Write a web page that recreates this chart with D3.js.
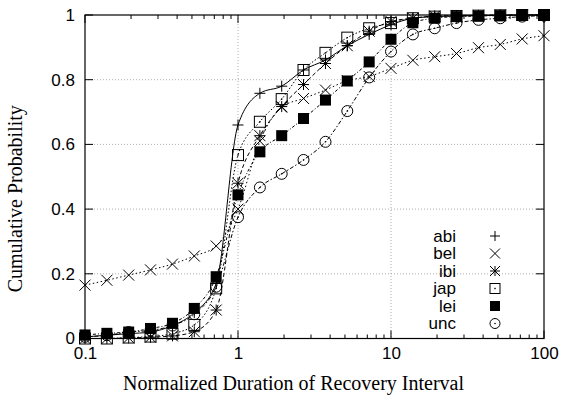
<!DOCTYPE html>
<html><head><meta charset="utf-8">
<script src="https://cdn.jsdelivr.net/npm/d3@7"></script>
<style>body{margin:0;background:#fff}svg{display:block}</style>
</head><body><svg id="c" width="561" height="400"></svg>
<script>
const xValues = [0.1,0.139,0.193,0.268,0.373,0.518,0.72,1,1.39,1.93,2.68,3.73,5.18,7.2,10,13.9,19.3,26.8,37.3,51.8,72,100];
const seriesNames = ["abi","bel","ibi","jap","lei","unc"];
const abi = [0.005,0.01,0.015,0.02,0.04,0.08,0.17,0.66,0.758,0.78,0.83,0.861,0.905,0.94,0.97,0.99,0.995,0.997,0.998,0.999,1,1];
const bel = [0.165,0.18,0.196,0.212,0.23,0.255,0.286,0.40,0.61,0.715,0.742,0.768,0.797,0.81,0.835,0.86,0.871,0.881,0.899,0.909,0.926,0.936];
const ibi = [0,0,0.002,0.004,0.008,0.021,0.088,0.48,0.627,0.717,0.785,0.85,0.905,0.95,0.98,0.99,0.997,0.998,0.999,1,1,1];
const jap = [0,0,0.003,0.006,0.015,0.042,0.155,0.567,0.67,0.74,0.83,0.883,0.93,0.959,0.975,0.99,0.995,0.997,0.998,0.999,1,1];
const lei = [0.011,0.016,0.02,0.031,0.047,0.093,0.191,0.444,0.577,0.627,0.68,0.737,0.796,0.855,0.925,0.976,0.99,0.995,0.997,0.998,0.999,1];
const unc = [0.005,0.01,0.02,0.025,0.04,0.075,0.16,0.375,0.467,0.509,0.552,0.608,0.703,0.807,0.887,0.94,0.959,0.975,0.985,0.99,0.995,0.998];
const xTickValues = [0.1,1,10,100];
const xTickLabels = ["0.1","1","10","100"];
const yTickValues = [0,0.2,0.4,0.6,0.8,1];
const yTickLabels = ["0","0.2","0.4","0.6","0.8","1"];
const xTitle = "Normalized Duration of Recovery Interval";
const yTitle = "Cumulative Probability";

const allSeries = [abi,bel,ibi,jap,lei,unc];
const dashes = [null,"1.5,2.5","4,2.5","1.5,2","3,2,1,2","4,2,1.5,2"];
const shapes = ["plus","cross","star","box","fbox","circle"];

const svg = d3.select("#c");
const L=85,R=544,T=15,B=338.5;
const x = d3.scaleLog().domain([0.1,100]).range([L,R]);
const y = d3.scaleLinear().domain([0,1]).range([B,T]);

// grid
const g = svg.append("g");
[1,10].forEach(v=>g.append("line").attr("x1",x(v)).attr("x2",x(v)).attr("y1",T).attr("y2",B)
  .attr("stroke","#999").attr("stroke-width",0.8).attr("stroke-dasharray","1,2"));
[0.2,0.4,0.6,0.8].forEach(v=>g.append("line").attr("x1",L).attr("x2",R).attr("y1",y(v)).attr("y2",y(v))
  .attr("stroke","#999").attr("stroke-width",0.8).attr("stroke-dasharray","1,2"));

// axes ticks (inside, mirrored)
const xb = d3.axisBottom(x).tickValues(xTickValues).tickFormat((d,i)=>xTickLabels[i]).tickSize(0).tickPadding(8);
const ax = svg.append("g").attr("transform",`translate(0,${B})`).call(xb);
ax.select(".domain").remove();
ax.selectAll("text").attr("font-family","Liberation Sans, Arial, sans-serif").attr("font-size",17).attr("fill","#000");
const yl = d3.axisLeft(y).tickValues(yTickValues).tickFormat((d,i)=>yTickLabels[i]).tickSize(0).tickPadding(10);
const ay = svg.append("g").attr("transform",`translate(${L},0)`).call(yl);
ay.select(".domain").remove();
ay.selectAll("text").attr("font-family","Liberation Sans, Arial, sans-serif").attr("font-size",17).attr("fill","#000");

const tk = svg.append("g").attr("stroke","#000").attr("stroke-width",1);
const minor=[];
[0.1,1,10].forEach(d=>{for(let k=2;k<=9;k++)minor.push(d*k);});
minor.forEach(v=>{
  tk.append("line").attr("x1",x(v)).attr("x2",x(v)).attr("y1",B).attr("y2",B-4);
  tk.append("line").attr("x1",x(v)).attr("x2",x(v)).attr("y1",T).attr("y2",T+4);
});
xTickValues.forEach(v=>{
  tk.append("line").attr("x1",x(v)).attr("x2",x(v)).attr("y1",B).attr("y2",B-8);
  tk.append("line").attr("x1",x(v)).attr("x2",x(v)).attr("y1",T).attr("y2",T+8);
});
yTickValues.forEach(v=>{
  tk.append("line").attr("x1",L).attr("x2",L+8).attr("y1",y(v)).attr("y2",y(v));
  tk.append("line").attr("x1",R).attr("x2",R-8).attr("y1",y(v)).attr("y2",y(v));
});

// series lines
const line = d3.line().x((d,i)=>x(xValues[i])).y(d=>y(d)).curve(d3.curveMonotoneX);
const pg = svg.append("g");
allSeries.forEach((s,k)=>{
  pg.append("path").attr("d",line(s)).attr("fill","none").attr("stroke","#000").attr("stroke-width",1)
    .attr("stroke-dasharray",dashes[k]);
});

function marker(sel,shape,cx,cy,s){
  const p=sel.append("g").attr("transform",`translate(${cx},${cy})`);
  if(shape==="plus"){p.append("path").attr("d",`M${-s},0H${s}M0,${-s}V${s}`).attr("stroke","#000").attr("fill","none");}
  else if(shape==="cross"){p.append("path").attr("d",`M${-s},${-s}L${s},${s}M${-s},${s}L${s},${-s}`).attr("stroke","#000").attr("fill","none");}
  else if(shape==="star"){p.append("path").attr("d",`M${-s},0H${s}M0,${-s}V${s}M${-s},${-s}L${s},${s}M${-s},${s}L${s},${-s}`).attr("stroke","#000").attr("fill","none");}
  else if(shape==="box"){p.append("rect").attr("x",-s).attr("y",-s).attr("width",2*s).attr("height",2*s).attr("fill","none").attr("stroke","#000");
    p.append("rect").attr("x",-0.7).attr("y",-0.7).attr("width",1.4).attr("height",1.4).attr("fill","#000");}
  else if(shape==="fbox"){p.append("rect").attr("x",-s).attr("y",-s).attr("width",2*s).attr("height",2*s).attr("fill","#000");}
  else if(shape==="circle"){p.append("circle").attr("r",s).attr("fill","none").attr("stroke","#000");
    p.append("circle").attr("r",0.8).attr("fill","#000");}
}
const mg = svg.append("g");
allSeries.forEach((s,k)=>{
  s.forEach((v,i)=>marker(mg,shapes[k],x(xValues[i]),y(v),5.5));
});

// border
svg.append("rect").attr("x",L).attr("y",T).attr("width",R-L).attr("height",B-T).attr("fill","none").attr("stroke","#000").attr("stroke-width",1.2);

// legend
const lg = svg.append("g");
seriesNames.forEach((n,k)=>{
  const yy = 236 + k*17.5;
  lg.append("text").attr("x",456).attr("y",yy).attr("dy","0.35em").attr("text-anchor","end")
    .attr("font-family","Liberation Sans, Arial, sans-serif").attr("font-size",17).text(n);
  marker(lg,shapes[k],495,yy,5);
});

// titles
svg.append("text").attr("x",(L+R)/2-21).attr("y",390).attr("text-anchor","middle")
  .attr("font-family","Liberation Serif, Times New Roman, serif").attr("font-size",20).text(xTitle);
svg.append("text").attr("transform",`translate(22,${(T+B)/2+22}) rotate(-90)`).attr("text-anchor","middle")
  .attr("font-family","Liberation Serif, Times New Roman, serif").attr("font-size",20).text(yTitle);
</script></body></html>
